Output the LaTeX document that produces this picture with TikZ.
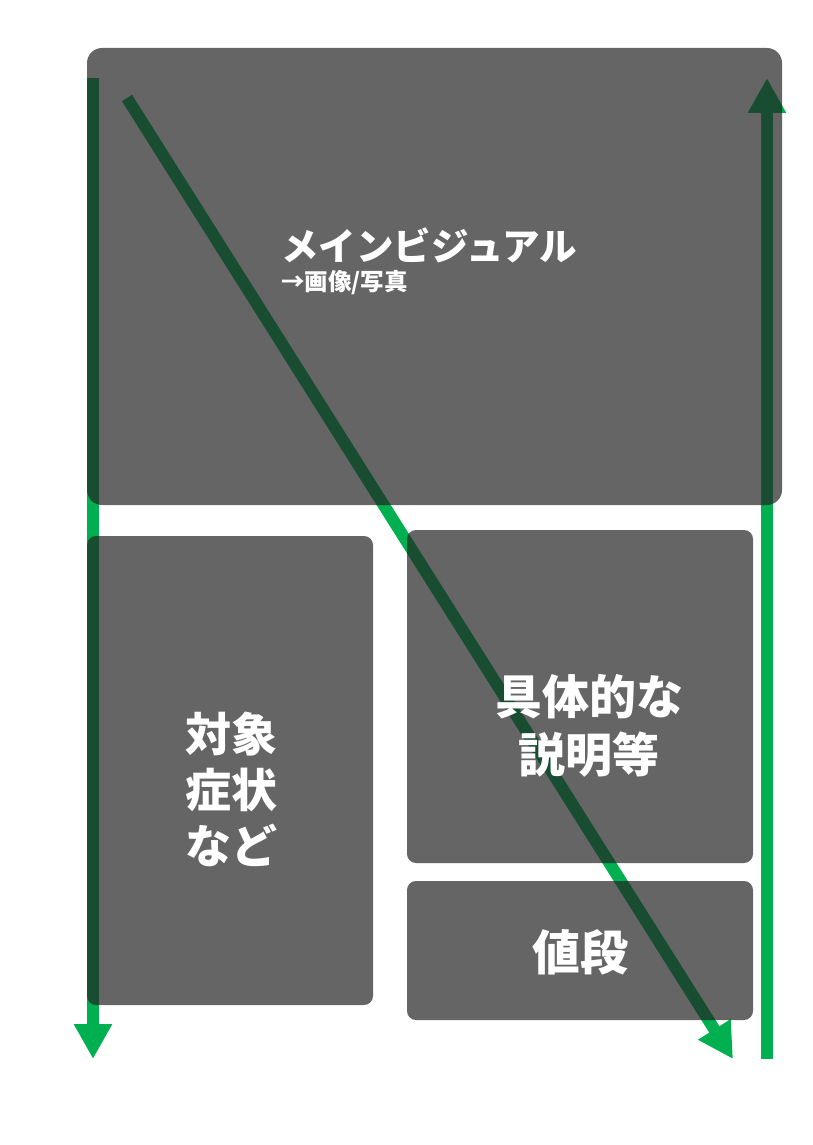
\documentclass[tikz,border=0pt]{standalone}
\usepackage{fontspec}
\setmainfont{Noto Sans CJK JP}
\usetikzlibrary{arrows.meta}
\definecolor{flowgreen}{RGB}{0,176,80}
\definecolor{panelgray}{RGB}{36,36,36}

\begin{document}
\begin{tikzpicture}[x=1pt, y=-1pt,
  flow/.style={draw=flowgreen, line width=12pt, -{Triangle[length=35pt, width=36pt]}},
  panel/.style={fill=panelgray, fill opacity=0.7, rounded corners=#1},
  txt/.style={text=white, inner sep=0pt, font=\bfseries}]
\useasboundingbox (0,0) rectangle (813,1145);

% reading paths
\coordinate (lstart) at (93,78);
\coordinate (lend) at (93,1059);
\coordinate (rstart) at (767,1059);
\coordinate (rend) at (767,78);
\coordinate (dstart) at (127,98);
\coordinate (dend) at (733,1059);

\draw[flow] (lstart) -- (lend);
\draw[flow] (rstart) -- (rend);
\draw[flow] (dstart) -- (dend);

% panels
\fill[panel=15pt] (87,48) rectangle (782,505);
\fill[panel=9pt] (87,536) rectangle (373,1005);
\fill[panel=9pt] (407,530) rectangle (753,863);
\fill[panel=9pt] (407,881) rectangle (753,1020);

\node[txt, anchor=west, font=\bfseries\fontsize{37.5}{40}\selectfont] (visual) at (281,245) {メインビジュアル};
\node[txt, anchor=west, font=\bfseries\fontsize{23.5}{26}\selectfont] (photo) at (281,283) {→画像/写真};
\node[txt, align=center, font=\bfseries\fontsize{46}{56}\selectfont] (target) at (231,789) {対象\\症状\\など};
\node[txt, align=center, font=\bfseries\fontsize{47}{58}\selectfont] (detail) at (589,726) {具体的な\\説明等};
\node[txt, font=\bfseries\fontsize{48}{56}\selectfont] (price) at (580,952) {値段};

\end{tikzpicture}
\end{document}
